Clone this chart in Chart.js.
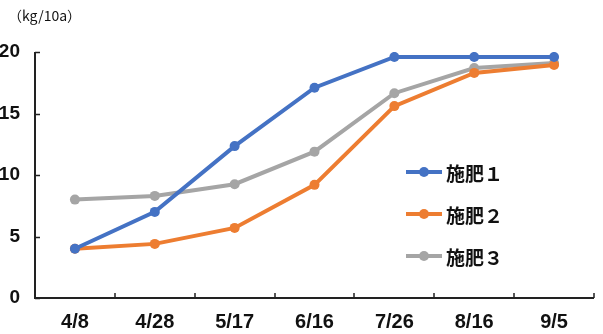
<!DOCTYPE html>
<html><head><meta charset="utf-8">
<script src="https://cdn.jsdelivr.net/npm/chart.js@4/dist/chart.umd.min.js"></script>
<style>
html,body{margin:0;padding:0;background:#fff;}
#wrap{position:relative;width:603px;height:334px;}
#unit{position:absolute;left:8px;top:5px;font-family:"Noto Sans CJK JP";font-size:14px;color:#111;}
#legend{position:absolute;left:406px;top:151px;font-family:"Noto Sans CJK JP";font-size:19px;font-weight:bold;color:#111;}
.li{display:flex;align-items:center;height:42px;}
.sw{position:relative;width:36px;height:14px;margin-right:4px;}
.sw .ln{position:absolute;left:0;right:0;top:5px;height:4px;}
.sw .pt{position:absolute;left:13px;top:2px;width:10px;height:10px;border-radius:50%;}
</style></head>
<body><div id="wrap"><canvas id="c" width="603" height="334"></canvas>
<div id="unit">（kg/10a）</div><div id="legend"></div></div>
<script>
const categories = ["4/8","4/28","5/17","6/16","7/26","8/16","9/5"];
const seriesNames = ["施肥１","施肥２","施肥３"];
const series1 = [4.0, 7.0, 12.35, 17.1, 19.6, 19.6, 19.6];
const series2 = [4.0, 4.4, 5.7, 9.2, 15.6, 18.3, 18.95];
const series3 = [8.0, 8.3, 9.25, 11.9, 16.65, 18.7, 19.1];
const yTicks = [0, 5, 10, 15, 20];
const colors = ["#4472C4","#ED7D31","#A5A5A5"];

const values = [series1, series2, series3];
const datasets = values.map((v,i)=>({
  label: seriesNames[i], data: v, borderColor: colors[i], backgroundColor: colors[i],
  borderWidth: 4, pointRadius: 5, pointHoverRadius: 5, pointBorderWidth: 0, tension: 0
}));

const innerTicks = {
  id: 'innerTicks',
  afterDraw(chart){
    const ctx = chart.ctx, x = chart.scales.x, y = chart.scales.y;
    ctx.save(); ctx.strokeStyle = '#222'; ctx.lineWidth = 1.5;
    ctx.beginPath();
    yTicks.forEach(t=>{ const py = Math.round(y.getPixelForValue(t))+0.5; ctx.moveTo(x.left, py); ctx.lineTo(x.left+5, py); });
    const step = x.getPixelForValue(1)-x.getPixelForValue(0);
    for(let i=1;i<=categories.length;i++){
      const px = i<categories.length ? x.getPixelForValue(i) - step/2 : x.right;
      ctx.moveTo(Math.round(px), y.bottom); ctx.lineTo(Math.round(px), y.bottom-5);
    }
    ctx.stroke();
    ctx.lineWidth = 2;
    ctx.beginPath(); ctx.moveTo(x.left, y.top); ctx.lineTo(x.left, y.bottom); ctx.lineTo(x.right, y.bottom); ctx.stroke();
    ctx.restore();
  }
};

const xFont = {family: "'Liberation Sans', sans-serif", size: 20, weight: 'bold'};
const yFont = {family: "'Liberation Sans', sans-serif", size: 19, weight: 'bold'};
new Chart(document.getElementById('c'), {
  type: 'line',
  data: { labels: categories, datasets },
  options: {
    responsive: false, animation: false,
    layout: { padding: { top: 52, right: 9, left: 0, bottom: 0 } },
    plugins: { legend: { display: false }, tooltip: { enabled: false } },
    scales: {
      x: { offset: true, grid: { display: false, drawTicks: false }, border: { display: false },
           ticks: { color: '#111', font: xFont, padding: 12, maxRotation: 0 },
           afterFit(s){ s.height = 36; } },
      y: { min: 0, max: 20, grid: { display: false, drawTicks: false }, border: { display: false },
           ticks: { color: '#111', font: yFont, padding: 15, stepSize: 5 },
           afterFit(s){ s.width = 35; } }
    }
  },
  plugins: [innerTicks]
});

const lg = document.getElementById('legend');
seriesNames.forEach((n,i)=>{
  const d = document.createElement('div'); d.className='li';
  d.innerHTML = `<div class="sw"><div class="ln" style="background:${colors[i]}"></div><div class="pt" style="background:${colors[i]}"></div></div><span>${n}</span>`;
  lg.appendChild(d);
});
</script></body></html>
